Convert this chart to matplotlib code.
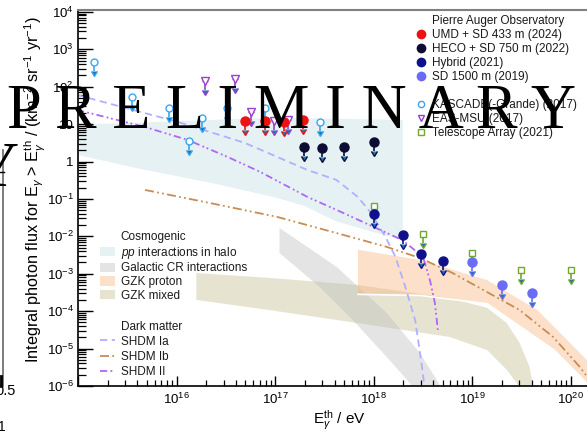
import numpy as np
import matplotlib.pyplot as plt
from matplotlib.lines import Line2D
from matplotlib.patches import Patch
from matplotlib.ticker import FixedLocator, LogLocator, FuncFormatter, NullFormatter

plt.rcParams['font.family'] = ['Liberation Sans', 'DejaVu Sans']
plt.rcParams['mathtext.fontset'] = 'custom'
plt.rcParams['mathtext.rm'] = 'Liberation Sans'
plt.rcParams['mathtext.it'] = 'Liberation Sans:italic'
plt.rcParams['mathtext.bf'] = 'Liberation Sans:bold'

# ---- upper limits (E_th in eV, integral flux in km^-2 sr^-1 yr^-1) ----
umd_E = [4.9e16, 7.8e16, 1.24e17, 1.9e17]
umd_F = [12.2, 12.2, 11.5, 12.9]
heco_E = [1.95e17, 3.0e17, 5.0e17, 1.0e18]
heco_F = [2.45, 2.3, 2.45, 3.3]
hyb_E = [1e18, 2e18, 3e18, 5e18]
hyb_F = [0.040, 0.011, 0.0034, 0.0022]
sd_E = [1e19, 2e19, 4e19]
sd_F = [0.0021, 5.0e-4, 3.1e-4]
kas_E = [1.46e15, 3.55e15, 8.4e15, 1.35e16, 1.82e16, 3.27e16, 7.96e16, 2.88e17]
kas_F = [460, 53, 27, 3.6, 14.7, 27, 27, 11.5]
msu_E = [1.96e16, 3.95e16, 5.74e16, 9.8e16, 1.36e17]
msu_F = [143, 162, 21, 12.2, 12.9]
ta_E = [1e18, 3.15e18, 1e19, 3.1e19, 1e20]
ta_F = [0.065, 0.0116, 0.0036, 0.00126, 0.00126]

# ---- model curves (log10 E, log10 flux) ----
ia_lx = [14.99, 16.01, 16.69, 17.33, 17.62, 17.84, 17.97, 18.12, 18.22, 18.32, 18.42, 18.48, 18.51, 18.52]
ia_ly = [1.78, 1.06, 0.50, -0.23, -0.49, -0.95, -1.37, -2.02, -2.55, -3.35, -4.24, -5.31, -5.92, -6.24]
ib_lx = [15.68, 16.34, 17.02, 17.62, 18.13, 18.47, 18.80, 19.15, 19.48, 19.82, 20.09, 20.19, 20.30]
ib_ly = [-0.76, -1.11, -1.48, -1.91, -2.28, -2.58, -2.98, -3.49, -3.97, -4.69, -5.49, -5.84, -6.16]
ii_lx = [14.99, 15.67, 16.11, 16.52, 16.85, 17.33, 17.62, 17.96, 18.29, 18.50, 18.57, 18.62, 18.65]
ii_ly = [1.38, 0.93, 0.58, 0.12, -0.28, -0.95, -1.29, -1.70, -2.10, -2.55, -3.17, -3.78, -4.50]

# ---- bands ----
pp_top_lx = [14.99, 16.0, 17.0, 17.5, 18.295]
pp_top_ly = [0.98, 1.08, 1.17, 1.15, 1.11]
pp_bot_lx = [14.99, 15.67, 16.35, 17.0, 17.3, 17.62, 18.0, 18.295]
pp_bot_ly = [0.18, -0.22, -0.57, -0.96, -1.19, -1.60, -1.89, -2.10]
gal_top_lx = [17.044, 17.624, 18.132, 18.467, 18.640, 18.721]
gal_top_ly = [-1.775, -2.818, -4.048, -5.118, -5.840, -6.24]
gal_bot_lx = [17.044, 17.450, 17.786, 18.132, 18.366, 18.427]
gal_bot_ly = [-2.444, -3.353, -4.235, -5.225, -5.920, -6.24]
gzkp_top_lx = [17.84, 18.47, 19.15, 19.66, 20.13, 20.30]
gzkp_top_ly = [-2.36, -2.63, -3.17, -3.97, -5.22, -5.75]
gzkp_bot_lx = [17.84, 18.47, 19.15, 19.83, 20.13, 20.25]
gzkp_bot_ly = [-3.55, -3.58, -3.80, -5.04, -5.84, -6.24]
gzkm_top_lx = [16.20, 16.94, 17.84, 18.77, 19.15, 19.35, 19.48, 19.58, 19.61, 19.63]
gzkm_top_ly = [-2.98, -3.11, -3.30, -3.65, -3.91, -4.32, -4.85, -5.49, -5.92, -6.24]
gzkm_bot_lx = [16.20, 16.94, 17.84, 18.77, 19.15, 19.35, 19.45, 19.49]
gzkm_bot_ly = [-3.70, -3.97, -4.32, -4.69, -5.04, -5.57, -5.92, -6.24]

c_umd, c_heco, c_hyb, c_sd = '#ee1111', '#0d0d33', '#10108c', '#6b6bf5'
c_kas, c_msu, c_ta = '#3aa6f0', '#9940cc', '#74a82c'
c_pp, c_gal, c_gzkp, c_gzkm = '#cfe5ea', '#bdbdbd', '#fcb27a', '#c9c59b'
a_pp, a_gal, a_gzkp, a_gzkm = 0.5, 0.4, 0.4, 0.45
c_ia, c_ib, c_ii = '#b0b0ff', '#c98c55', '#b066f2'
ls_ia = (0, (4, 2.5))
ls_ib = (0, (5, 1.8, 1, 1.8, 1, 1.8))
ls_ii = (0, (4, 1.8, 1, 1.5, 1, 1.8))

fig = plt.figure(figsize=(5.87, 4.33), dpi=100)
ax = fig.add_axes([78/587, 1-386/433, 522/587, 376/433])
ax.set_xscale('log')
ax.set_yscale('log')
ax.set_xlim(1e15, 10**20.295)
ax.set_ylim(1e-6, 10**4.05)


def band(tlx, tly, blx, bly, color, alpha):
    xs = np.concatenate([tlx, blx[::-1]])
    ys = np.concatenate([tly, bly[::-1]])
    ax.fill(10**xs, 10**ys, color=color, alpha=alpha, lw=0, zorder=1)


band(pp_top_lx, pp_top_ly, pp_bot_lx, pp_bot_ly, c_pp, a_pp)
band(gzkm_top_lx, gzkm_top_ly, gzkm_bot_lx, gzkm_bot_ly, c_gzkm, a_gzkm)
band(gal_top_lx, gal_top_ly, gal_bot_lx, gal_bot_ly, c_gal, a_gal)
band(gzkp_top_lx, gzkp_top_ly, gzkp_bot_lx, gzkp_bot_ly, c_gzkp, a_gzkp)
ax.plot(10**np.array(gzkp_bot_lx), 10**np.array(gzkp_bot_ly), color='white', lw=1.2, zorder=1.5)

ax.plot(10**np.array(ia_lx), 10**np.array(ia_ly), color=c_ia, lw=1.3, ls=ls_ia, zorder=2)
ax.plot(10**np.array(ib_lx), 10**np.array(ib_ly), color=c_ib, lw=1.3, ls=ls_ib, zorder=2)
ax.plot(10**np.array(ii_lx), 10**np.array(ii_ly), color=c_ii, lw=1.3, ls=ls_ii, zorder=2)


def limits(E, F, color, marker, ms, filled):
    F = np.asarray(F)
    err = F * (1 - 10**-0.25)
    ax.errorbar(E, F, yerr=[err, np.zeros_like(F)], uplims=True, fmt='none',
                ecolor=color, elinewidth=1.2, capsize=2.5, zorder=4)
    ax.plot(E, F, ls='none', marker=marker, ms=ms, color=color,
            mfc=color if filled else 'white', mec=color, mew=1.0, zorder=5)


limits(kas_E, kas_F, c_kas, 'o', 5, False)
limits(msu_E, msu_F, c_msu, 'v', 6, False)
limits(ta_E, ta_F, c_ta, 's', 5, False)
limits(umd_E, umd_F, c_umd, 'o', 6.5, True)
limits(heco_E, heco_F, c_heco, 'o', 6.5, True)
limits(hyb_E, hyb_F, c_hyb, 'o', 6.5, True)
limits(sd_E, sd_F, c_sd, 'o', 6.5, True)

# ticks
ax.xaxis.set_major_locator(FixedLocator([1e15, 1e16, 1e17, 1e18, 1e19, 1e20]))
ax.xaxis.set_major_formatter(FuncFormatter(lambda v, p: '' if v < 1e16 else r'$10^{%d}$' % round(np.log10(v))))
ax.xaxis.set_minor_locator(LogLocator(base=10, subs=np.arange(2, 10), numticks=30))
ax.xaxis.set_minor_formatter(NullFormatter())
ax.yaxis.set_major_locator(LogLocator(base=10, numticks=30))


def yfmt(v, p):
    e = int(round(np.log10(v)))
    if e == 0:
        return '1'
    if e == 1:
        return '10'
    return r'$10^{%d}$' % e


ax.yaxis.set_major_formatter(FuncFormatter(yfmt))
ax.yaxis.set_minor_locator(LogLocator(base=10, subs=np.arange(2, 10), numticks=30))
ax.yaxis.set_minor_formatter(NullFormatter())
ax.tick_params(axis='y', which='major', direction='in', length=11, width=1.0, labelsize=9.5, pad=3)
ax.tick_params(axis='y', which='minor', direction='in', length=5.5, width=0.9)
ax.tick_params(axis='x', which='major', direction='in', length=7.5, width=1.0, labelsize=9.5, pad=4)
ax.tick_params(axis='x', which='minor', direction='in', length=4, width=0.9)
for s in ['left', 'bottom']:
    ax.spines[s].set_linewidth(1.2)
ax.spines['top'].set_color('#808080')
ax.spines['top'].set_linewidth(1.5)
ax.spines['right'].set_visible(False)

ax.set_xlabel(r'E$_{\gamma}^{\rm th}$ / eV', fontsize=11)
ax.xaxis.set_label_coords(0.50, -0.06)
ax.set_ylabel(r'Integral photon flux for E$_{\gamma}$ > E$_{\gamma}^{\rm th}$ / (km$^{-2}$ sr$^{-1}$ yr$^{-1}$)',
              fontsize=11.7)
ax.yaxis.set_label_coords(-0.058, 0.521)

# legends
blank = Line2D([], [], ls='none')
h1 = [blank,
      Line2D([], [], marker='o', ls='none', color=c_umd, ms=6),
      Line2D([], [], marker='o', ls='none', color=c_heco, ms=6),
      Line2D([], [], marker='o', ls='none', color=c_hyb, ms=6),
      Line2D([], [], marker='o', ls='none', color=c_sd, ms=6),
      blank,
      Line2D([], [], marker='o', ls='none', color=c_kas, mfc='white', ms=4.5),
      Line2D([], [], marker='v', ls='none', color=c_msu, mfc='white', ms=5),
      Line2D([], [], marker='s', ls='none', color=c_ta, mfc='white', ms=4.5)]
l1 = ['Pierre Auger Observatory', 'UMD + SD 433 m (2024)', 'HECO + SD 750 m (2022)', 'Hybrid (2021)',
      'SD 1500 m (2019)', '', 'KASCADE(-Grande) (2017)', 'EAS-MSU (2017)', 'Telescope Array (2021)']
fig.legend(h1, l1, loc='upper left', bbox_to_anchor=(417/587, 1-15/433), frameon=False, fontsize=8.5,
           handlelength=0.6, handletextpad=0.7, labelspacing=0.17, borderpad=0, borderaxespad=0,
           labelcolor='#1a1a1a')

h2 = [blank,
      Patch(facecolor=c_pp, alpha=a_pp, lw=0),
      Patch(facecolor=c_gal, alpha=a_gal, lw=0),
      Patch(facecolor=c_gzkp, alpha=a_gzkp, lw=0),
      Patch(facecolor=c_gzkm, alpha=a_gzkm, lw=0)]
l2 = ['Cosmogenic', '$pp$ interactions in halo', 'Galactic CR interactions', 'GZK proton', 'GZK mixed']
fig.legend(h2, l2, loc='upper left', bbox_to_anchor=(100/587, 1-231/433), frameon=False, fontsize=8.5,
           handlelength=1.3, handletextpad=0.45, labelspacing=0.14, handleheight=0.85,
           borderpad=0, borderaxespad=0, labelcolor='#1a1a1a')

h3 = [blank,
      Line2D([], [], color=c_ia, lw=1.3, ls=ls_ia),
      Line2D([], [], color=c_ib, lw=1.3, ls=ls_ib),
      Line2D([], [], color=c_ii, lw=1.3, ls=ls_ii)]
l3 = ['Dark matter', 'SHDM Ia', 'SHDM Ib', 'SHDM II']
fig.legend(h3, l3, loc='upper left', bbox_to_anchor=(100/587, 1-320.5/433), frameon=False, fontsize=8.5,
           handlelength=1.3, handletextpad=0.45, labelspacing=0.26,
           borderpad=0, borderaxespad=0, labelcolor='#1a1a1a')

# overlay and remnants of the neighbouring panel
fig.text(7/587, 1-128/433, 'P R E L I M I N A R Y', fontsize=45, family='Liberation Serif',
         ha='left', va='baseline', zorder=20)
fig.text(18/587, 1-186/433, 'Y', fontsize=45, family='Liberation Serif', ha='right', va='baseline', zorder=20)
fig.add_artist(Line2D([3/587, 3/587], [1-150/433, 1-386/433], color='#666666', lw=1.2))
fig.add_artist(Line2D([0, 4/587], [1-172/433, 1-172/433], color='black', lw=1.0))
fig.add_artist(Line2D([1/587, 1/587], [1-376/433, 1-386/433], color='black', lw=2))
fig.text(16/587, 1-391/433, '0.5', fontsize=10.5, ha='right', va='center')
fig.text(6/587, 1-427/433, '1', fontsize=10, ha='right', va='center')

fig.savefig('out.png', dpi=100)
